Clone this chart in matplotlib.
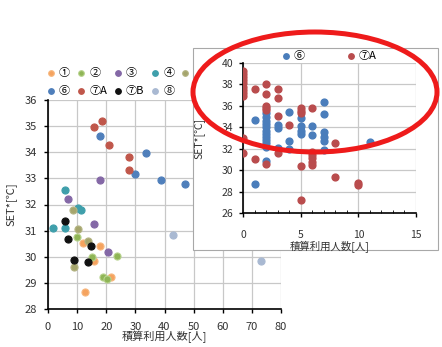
import numpy as np
import matplotlib
matplotlib.use('Agg')
import matplotlib.pyplot as plt
from matplotlib.patches import Rectangle, Ellipse

plt.rcParams['font.family'] = ['Noto Sans CJK JP', 'DejaVu Sans']

# main chart: one list pair per group
s1_x = [11.9, 17.8, 15.9, 21.8, 12.7]
s1_y = [30.52, 30.43, 29.85, 29.21, 28.66]
s2_x = [10.0, 15.0, 23.7, 18.9, 20.1]
s2_y = [30.75, 30.0, 30.03, 29.24, 29.14]
s3_x = [17.8, 6.7, 15.9, 20.7]
s3_y = [32.92, 32.2, 31.26, 30.2]
s4_x = [5.8, 1.8, 5.8, 10.2, 11.5]
s4_y = [32.55, 31.09, 31.09, 31.86, 31.79]
s5_x = [8.7, 10.4, 13.8, 8.9]
s5_y = [31.79, 31.05, 30.62, 29.6]
s6_x = [17.8, 33.8, 29.8, 38.9, 46.9]
s6_y = [34.64, 33.99, 33.17, 32.94, 32.79]
s7a_x = [18.5, 15.9, 20.9, 27.8, 27.8]
s7a_y = [35.21, 34.95, 34.26, 33.81, 33.33]
s7b_x = [5.8, 7.0, 14.7, 8.9, 13.8]
s7b_y = [31.38, 30.68, 30.41, 29.88, 29.81]
s8_x = [42.9, 73.0]
s8_y = [30.84, 29.84]

labels = ['①', '②', '③', '④', '⑤', '⑥', '⑦A', '⑦B', '⑧']
colors = ['#f5a35f', '#8fb556', '#8468a6', '#3f9fab', '#a5a56c',
          '#4f7fbb', '#c0574b', '#111111', '#a9b9d2']
edges = ['#f7b880', '#b8d38e', '#8468a6', '#3f9fab', '#b5b585',
         '#4f7fbb', '#c0574b', '#111111', '#a9b9d2']

# inset chart
in6_x = [1, 1,
         2, 2, 2, 2, 2, 2, 2, 2, 2, 2, 2, 2,
         3, 3, 3,
         4, 4, 4,
         5, 5, 5, 5,
         6, 6,
         7, 7, 7, 7, 7, 7,
         11]
in6_y = [34.7, 28.7,
         35.3, 35.0, 34.6, 34.3, 34.0, 33.7, 33.4, 33.1, 32.8, 32.5, 32.2, 30.9,
         34.2, 33.9, 32.1,
         35.4, 32.7, 32.0,
         34.9, 34.1, 33.7, 33.4,
         34.1, 33.3,
         36.4, 35.2, 33.6, 33.1, 32.7, 31.9,
         32.6]
in7a_x = [0, 0, 0, 0, 0, 0, 0, 0, 0, 0, 0,
          1, 1,
          2, 2, 2, 2, 2, 2,
          3, 3, 3, 3,
          4,
          5, 5, 5, 5, 5,
          6, 6, 6, 6, 6, 6,
          8, 8,
          10, 10]
in7a_y = [39.3, 39.0, 38.7, 38.4, 38.1, 37.8, 37.5, 37.2, 36.9, 33.0, 31.6,
          37.6, 31.0,
          38.0, 37.1, 36.0, 35.8, 35.6, 30.6,
          37.6, 36.7, 35.1, 31.6,
          34.2,
          35.8, 35.5, 35.3, 30.4, 27.2,
          35.8, 31.7, 31.4, 31.1, 30.8, 30.5,
          32.5, 29.4,
          28.8, 28.6]

W, H = 442, 347
fig = plt.figure(figsize=(W/100, H/100), dpi=100)
grid_c = '#c8c8c8'
txt_c = '#333333'

# ---- main axes
ax = fig.add_axes([48/W, 1-309/H, 233/W, 209/H])
series = [(s1_x, s1_y), (s2_x, s2_y), (s3_x, s3_y), (s4_x, s4_y), (s5_x, s5_y),
          (s6_x, s6_y), (s7a_x, s7a_y), (s7b_x, s7b_y), (s8_x, s8_y)]
handles = []
for (xs, ys), lab, c, ec in zip(series, labels, colors, edges):
    h = ax.scatter(xs, ys, s=26, color=c, edgecolors=ec, linewidths=0.8,
                   label=lab, zorder=3)
    handles.append(h)
ax.set_xlim(0, 80)
ax.set_ylim(28, 36)
ax.set_xticks(np.arange(0, 81, 10))
ax.set_yticks(np.arange(28, 37, 1))
ax.grid(True, color=grid_c, lw=0.9)
ax.set_axisbelow(True)
for s in ['top', 'right']:
    ax.spines[s].set_visible(False)
for s in ['left', 'bottom']:
    ax.spines[s].set_linewidth(1.2)
ax.tick_params(direction='out', length=3, width=1, labelsize=8,
               labelcolor=txt_c, pad=5)
ax.tick_params(axis='x', pad=6)
ax.set_xlabel('積算利用人数[人]', fontsize=8, color=txt_c)
ax.xaxis.set_label_coords(0.5, -(331-309)/209)
ax.set_ylabel('SET*[℃]', fontsize=8, color=txt_c)
ax.yaxis.set_label_coords(-(48-18)/233, 0.5)

order = [0, 5, 1, 6, 2, 7, 3, 8, 4]
ax.legend([handles[i] for i in order], [labels[i] for i in order],
          ncol=5, loc='lower left', bbox_to_anchor=(48/W, 1-96/H),
          bbox_transform=fig.transFigure, frameon=False, fontsize=8,
          handlelength=0.6, handletextpad=0.4, columnspacing=0.7,
          labelspacing=0.75, borderpad=0, borderaxespad=0, scatterpoints=1,
          markerscale=0.8)

# ---- inset box
fig.add_artist(Rectangle((193/W, 1-250/H), 245/W, 202/H,
                         transform=fig.transFigure, facecolor='white',
                         edgecolor='#a8a8a8', lw=0.8, zorder=1))

ax2 = fig.add_axes([243/W, 1-213/H, 173/W, 150/H], zorder=2)
h6 = ax2.scatter(in6_x, in6_y, s=24, color='#4a7dbb', label='⑥', zorder=3)
h7 = ax2.scatter(in7a_x, in7a_y, s=24, color='#b94c4d', label='⑦A', zorder=3)
ax2.set_xlim(0, 15)
ax2.set_ylim(26, 40)
ax2.set_xticks([0, 5, 10, 15])
ax2.set_xticks(np.arange(0, 16, 1), minor=True)
ax2.set_yticks(np.arange(26, 41, 2))
ax2.grid(True, which='major', color=grid_c, lw=0.9)
ax2.set_axisbelow(True)
for s in ['top', 'right']:
    ax2.spines[s].set_visible(False)
for s in ['left', 'bottom']:
    ax2.spines[s].set_linewidth(1.2)
ax2.tick_params(direction='out', length=3, width=1, labelsize=7.5,
                labelcolor=txt_c, pad=4)
ax2.tick_params(axis='x', which='major', pad=9)
ax2.tick_params(axis='x', which='minor', direction='in', length=2, width=0.6)
ax2.set_xlabel('積算利用人数[人]', fontsize=7.5, color=txt_c, labelpad=1)
ax2.set_ylabel('SET*[℃]', fontsize=7.5, color=txt_c)
ax2.yaxis.set_label_coords(-(243-204)/173, 0.5)
ax2.legend([h6, h7], ['⑥', '⑦A'], ncol=2, loc='lower center',
           bbox_to_anchor=(0.5, 1.0), frameon=False, fontsize=8,
           handlelength=0.6, handletextpad=0.4, columnspacing=3.8,
           borderpad=0.1, borderaxespad=0.1, markerscale=0.8)

# ---- red highlight ellipse
fig.add_artist(Ellipse((315/W, 1-92/H), 244/W, 120/H,
                       transform=fig.transFigure, fill=False,
                       edgecolor='#ee1b1b', lw=3.6, zorder=5))

fig.savefig('out.png', dpi=100)
